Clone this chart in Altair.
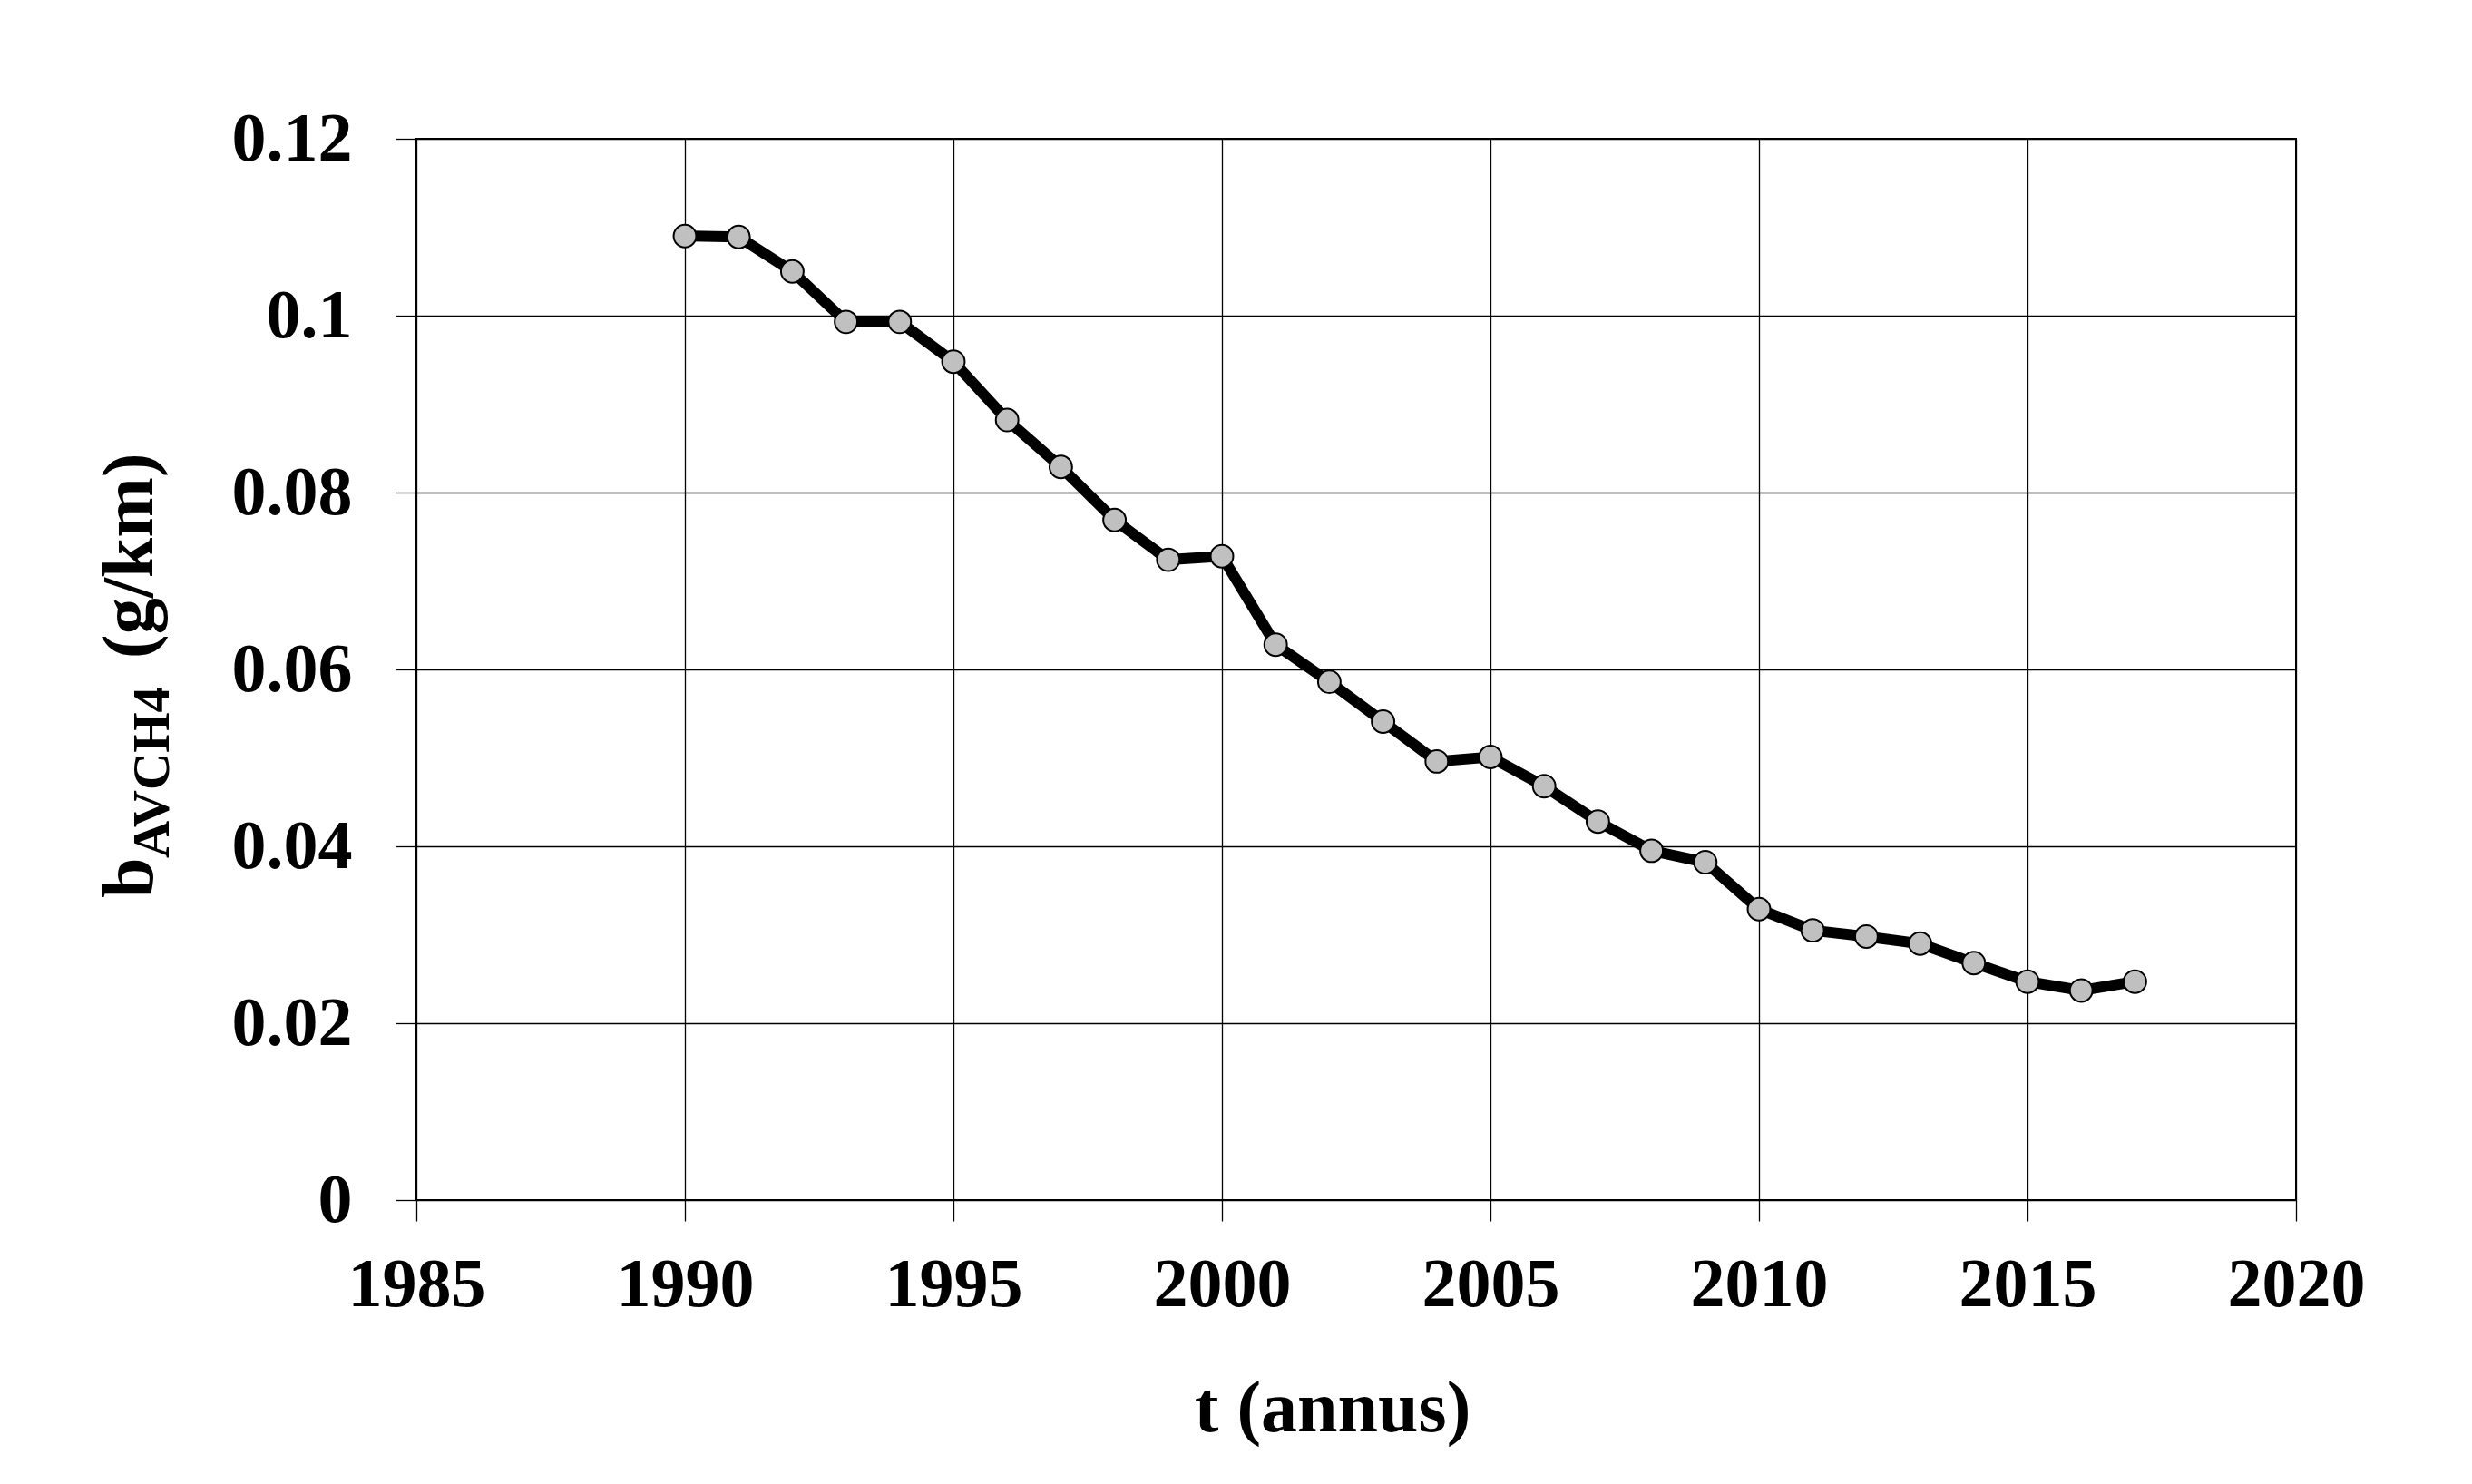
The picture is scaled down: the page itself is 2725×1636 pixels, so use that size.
import altair as alt
import pandas as pd

# ---- data ----
years = list(range(1990, 2018))
b_avch4 = [0.1090, 0.1089, 0.1050, 0.0993, 0.0993, 0.0948, 0.0882, 0.0829,
           0.0769, 0.0724, 0.0728, 0.0628, 0.0586, 0.0541, 0.0496, 0.0501,
           0.0468, 0.0428, 0.0395, 0.0382, 0.0329, 0.0305, 0.0298, 0.0290,
           0.0268, 0.0247, 0.0237, 0.0247]
x_ticks = [1985, 1990, 1995, 2000, 2005, 2010, 2015, 2020]
y_ticks = [0, 0.02, 0.04, 0.06, 0.08, 0.10, 0.12]
y_title_main = "b"
y_title_sub = "AVCH4"
y_title_unit = "(g/km)"
x_title = "t (annus)"

df = pd.DataFrame({"year": years, "value": b_avch4})

FONT = "Liberation Serif"

x_enc = alt.X("year:Q",
              scale=alt.Scale(domain=[x_ticks[0], x_ticks[-1]], nice=False, zero=False),
              axis=alt.Axis(values=x_ticks, format="d", title=None,
                            labelPadding=33, labelFlush=False))
y_enc = alt.Y("value:Q",
              scale=alt.Scale(domain=[y_ticks[0], y_ticks[-1]], nice=False),
              axis=alt.Axis(values=y_ticks, format=".2~f", title=None,
                            labelPadding=48))

base = alt.Chart(df)

line = base.mark_line(color="black", strokeWidth=12).encode(x=x_enc, y=y_enc)
pts = base.mark_point(filled=True, shape="circle", size=620, fill="#C0C0C0",
                      stroke="black", strokeWidth=2, opacity=1).encode(x=x_enc, y=y_enc)


def txt(s, x, y, size, angle=0, align="left"):
    return alt.Chart(pd.DataFrame({"t": [s]})).mark_text(
        font=FONT, fontWeight="bold", fontSize=size, angle=angle, align=align,
        baseline="alphabetic", color="black"
    ).encode(text="t:N", x=alt.value(x), y=alt.value(y))


t_b = txt(y_title_main, -291, 837, 80, angle=270)
t_sub = txt(y_title_sub, -273, 793, 57, angle=270)
t_unit = txt(y_title_unit, -291, 573, 80, angle=270)
t_x = txt(x_title, 1010, 1425, 80, align="center")

chart = alt.layer(line, pts, t_b, t_sub, t_unit, t_x).properties(
    width=2072, height=1170,
    autosize=alt.AutoSizeParams(type="none"),
    padding={"left": 451, "top": 145, "right": 150, "bottom": 300},
).configure_view(
    stroke="black", strokeWidth=2
).configure_axis(
    domain=False,
    grid=True, gridColor="black", gridWidth=1.3, gridOpacity=1,
    ticks=True, tickColor="black", tickSize=23, tickWidth=1.3,
    labelFont=FONT, labelFontWeight="bold", labelFontSize=76, labelColor="black",
)

chart.save("out.html", embed_options={"renderer": "svg", "actions": False})
